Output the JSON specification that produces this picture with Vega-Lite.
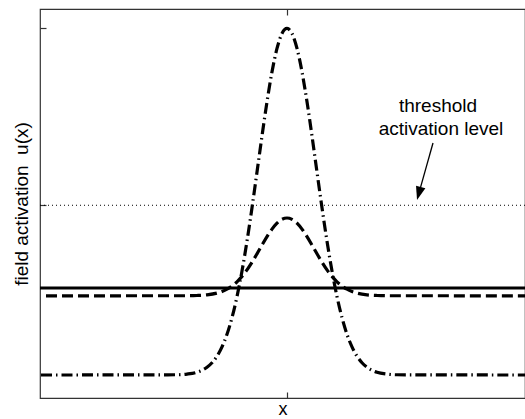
{
  "$schema": "https://vega.github.io/schema/vega-lite/v6.json",
  "width": 485,
  "height": 389,
  "autosize": "none",
  "padding": {"left": 40, "top": 9, "right": 0, "bottom": 21},
  "background": "white",
  "config": {
    "font": "Liberation Sans",
    "view": {"stroke": "#333", "strokeWidth": 1.2}
  },
  "datasets": {
    "curves": [
      {"x": -246, "u": -4.8, "c": "dashdot"},
      {"x": -110, "u": -4.793, "c": "dashdot"},
      {"x": -100, "u": -4.774, "c": "dashdot"},
      {"x": -90, "u": -4.721, "c": "dashdot"},
      {"x": -80, "u": -4.582, "c": "dashdot"},
      {"x": -75, "u": -4.454, "c": "dashdot"},
      {"x": -70, "u": -4.268, "c": "dashdot"},
      {"x": -65, "u": -4.005, "c": "dashdot"},
      {"x": -60, "u": -3.648, "c": "dashdot"},
      {"x": -55, "u": -3.178, "c": "dashdot"},
      {"x": -50, "u": -2.583, "c": "dashdot"},
      {"x": -45, "u": -1.86, "c": "dashdot"},
      {"x": -40, "u": -1.015, "c": "dashdot"},
      {"x": -35, "u": -0.069, "c": "dashdot"},
      {"x": -30, "u": 0.939, "c": "dashdot"},
      {"x": -25, "u": 1.959, "c": "dashdot"},
      {"x": -20, "u": 2.926, "c": "dashdot"},
      {"x": -15, "u": 3.773, "c": "dashdot"},
      {"x": -10, "u": 4.434, "c": "dashdot"},
      {"x": -5, "u": 4.856, "c": "dashdot"},
      {"x": 0, "u": 5.0, "c": "dashdot"},
      {"x": 5, "u": 4.856, "c": "dashdot"},
      {"x": 10, "u": 4.434, "c": "dashdot"},
      {"x": 15, "u": 3.773, "c": "dashdot"},
      {"x": 20, "u": 2.926, "c": "dashdot"},
      {"x": 25, "u": 1.959, "c": "dashdot"},
      {"x": 30, "u": 0.939, "c": "dashdot"},
      {"x": 35, "u": -0.069, "c": "dashdot"},
      {"x": 40, "u": -1.015, "c": "dashdot"},
      {"x": 45, "u": -1.86, "c": "dashdot"},
      {"x": 50, "u": -2.583, "c": "dashdot"},
      {"x": 55, "u": -3.178, "c": "dashdot"},
      {"x": 60, "u": -3.648, "c": "dashdot"},
      {"x": 65, "u": -4.005, "c": "dashdot"},
      {"x": 70, "u": -4.268, "c": "dashdot"},
      {"x": 75, "u": -4.454, "c": "dashdot"},
      {"x": 80, "u": -4.582, "c": "dashdot"},
      {"x": 90, "u": -4.721, "c": "dashdot"},
      {"x": 100, "u": -4.774, "c": "dashdot"},
      {"x": 110, "u": -4.793, "c": "dashdot"},
      {"x": 238, "u": -4.8, "c": "dashdot"},
      {"x": -241, "u": -2.56, "c": "dashed"},
      {"x": -100, "u": -2.558, "c": "dashed"},
      {"x": -90, "u": -2.551, "c": "dashed"},
      {"x": -80, "u": -2.533, "c": "dashed"},
      {"x": -70, "u": -2.484, "c": "dashed"},
      {"x": -65, "u": -2.439, "c": "dashed"},
      {"x": -60, "u": -2.374, "c": "dashed"},
      {"x": -55, "u": -2.284, "c": "dashed"},
      {"x": -50, "u": -2.164, "c": "dashed"},
      {"x": -45, "u": -2.011, "c": "dashed"},
      {"x": -40, "u": -1.826, "c": "dashed"},
      {"x": -35, "u": -1.61, "c": "dashed"},
      {"x": -30, "u": -1.373, "c": "dashed"},
      {"x": -25, "u": -1.127, "c": "dashed"},
      {"x": -20, "u": -0.888, "c": "dashed"},
      {"x": -15, "u": -0.675, "c": "dashed"},
      {"x": -10, "u": -0.506, "c": "dashed"},
      {"x": -5, "u": -0.397, "c": "dashed"},
      {"x": 0, "u": -0.36, "c": "dashed"},
      {"x": 5, "u": -0.397, "c": "dashed"},
      {"x": 10, "u": -0.506, "c": "dashed"},
      {"x": 15, "u": -0.675, "c": "dashed"},
      {"x": 20, "u": -0.888, "c": "dashed"},
      {"x": 25, "u": -1.127, "c": "dashed"},
      {"x": 30, "u": -1.373, "c": "dashed"},
      {"x": 35, "u": -1.61, "c": "dashed"},
      {"x": 40, "u": -1.826, "c": "dashed"},
      {"x": 45, "u": -2.011, "c": "dashed"},
      {"x": 50, "u": -2.164, "c": "dashed"},
      {"x": 55, "u": -2.284, "c": "dashed"},
      {"x": 60, "u": -2.374, "c": "dashed"},
      {"x": 65, "u": -2.439, "c": "dashed"},
      {"x": 70, "u": -2.484, "c": "dashed"},
      {"x": 80, "u": -2.533, "c": "dashed"},
      {"x": 90, "u": -2.551, "c": "dashed"},
      {"x": 100, "u": -2.558, "c": "dashed"},
      {"x": 238, "u": -2.56, "c": "dashed"}
    ],
    "arrow": [
      {"x": 146, "u": 1.762},
      {"x": 132.7, "u": 0.421}
    ],
    "tip": [
      {"x": 130, "u": 0.15}
    ],
    "labels": [
      {"x": 151, "u": 2.639, "label": "threshold"},
      {"x": 154, "u": 1.988, "label": "activation level"}
    ]
  },
  "resolve": {"axis": {"x": "independent"}},
  "encoding": {
    "y": {
      "field": "u", "type": "quantitative",
      "scale": {"domain": [-5.45, 5.55], "nice": false, "zero": false},
      "axis": {
        "values": [0, 5], "labels": false, "domain": false, "grid": false,
        "offset": -6, "tickSize": 6, "tickColor": "#333", "tickWidth": 1.2,
        "title": "field activation\u00a0 u(x)", "titleFont": "Liberation Sans",
        "titleFontSize": 19, "titleFontWeight": "normal", "titleColor": "#000",
        "titleBaseline": "alphabetic", "titlePadding": 12
      }
    }
  },
  "layer": [
    {
      "data": {"values": [{"u": 0}]},
      "mark": {"type": "rule", "color": "#000", "strokeWidth": 1, "strokeDash": [1, 3]},
      "encoding": {}
    },
    {
      "data": {"values": [{"u": -2.34}]},
      "mark": {"type": "rule", "color": "#000", "strokeWidth": 3.2},
      "encoding": {}
    },
    {
      "data": {"name": "curves"},
      "transform": [{"filter": "datum.c === 'dashed'"}],
      "mark": {"type": "line", "color": "#000", "strokeWidth": 3.2, "strokeDash": [11, 5], "interpolate": "monotone"},
      "encoding": {
        "x": {
          "field": "x", "type": "quantitative",
          "scale": {"domain": [-247, 238], "nice": false, "zero": false},
          "axis": {
            "orient": "bottom", "values": [0], "labels": false, "domain": false, "grid": false,
            "offset": -6, "tickSize": 6, "tickColor": "#333", "tickWidth": 1.2,
            "title": "x", "titleFont": "Liberation Sans", "titleFontSize": 18,
            "titleFontWeight": "normal", "titleColor": "#000",
            "titleBaseline": "alphabetic", "titlePadding": 16
          }
        }
      }
    },
    {
      "data": {"name": "curves"},
      "transform": [{"filter": "datum.c === 'dashdot'"}],
      "mark": {"type": "line", "color": "#000", "strokeWidth": 3.2, "strokeDash": [11, 4, 1.5, 4], "interpolate": "monotone"},
      "encoding": {
        "x": {
          "field": "x", "type": "quantitative",
          "axis": {
            "orient": "top", "values": [0], "labels": false, "domain": false, "grid": false,
            "offset": -6, "tickSize": 6, "tickColor": "#333", "tickWidth": 1.2, "title": null
          }
        }
      }
    },
    {
      "data": {"name": "arrow"},
      "mark": {"type": "line", "color": "#000", "strokeWidth": 1.3},
      "encoding": {
        "x": {"field": "x", "type": "quantitative", "axis": null}
      }
    },
    {
      "data": {"name": "tip"},
      "mark": {"type": "point", "shape": "M0,0L-0.36,1L0.36,1Z", "filled": true, "color": "#000", "opacity": 1, "size": 729, "angle": 196},
      "encoding": {
        "x": {"field": "x", "type": "quantitative", "axis": null}
      }
    },
    {
      "data": {"name": "labels"},
      "mark": {"type": "text", "font": "Liberation Sans", "fontSize": 19, "color": "#000", "align": "center", "baseline": "alphabetic"},
      "encoding": {
        "x": {"field": "x", "type": "quantitative", "axis": null},
        "text": {"field": "label"}
      }
    }
  ]
}
